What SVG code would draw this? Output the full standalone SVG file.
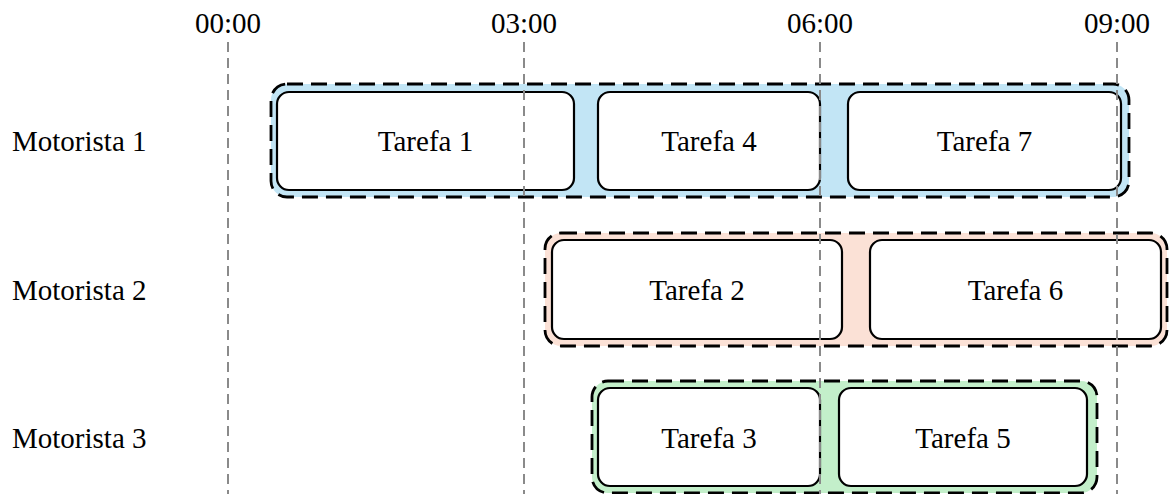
<svg xmlns="http://www.w3.org/2000/svg" width="1170" height="494" viewBox="0 0 1170 494">
  <style>
    text { font-family: "Liberation Serif", "Times New Roman", serif; font-size: 29px; fill: #000; }
    .mid { text-anchor: middle; }
    .lane { stroke: #000; stroke-width: 2.8; stroke-dasharray: 16 8; }
    .blue { fill: #c2e5f5; }
    .peach { fill: #fbe1d6; }
    .green { fill: #c3efca; }
    .task { fill: #fff; stroke: #000; stroke-width: 2.2; }
    .grid { stroke: #8a8a8a; stroke-width: 2; stroke-dasharray: 10 6; fill: none; }
  </style>

  <!-- time axis labels -->
  <g id="axis">
    <text class="mid" x="228" y="33">00:00</text>
    <text class="mid" x="524" y="33">03:00</text>
    <text class="mid" x="820" y="33">06:00</text>
    <text class="mid" x="1117" y="33">09:00</text>
  </g>

  <!-- driver labels -->
  <g id="drivers">
    <text x="12" y="151">Motorista 1</text>
    <text x="12" y="300">Motorista 2</text>
    <text x="12" y="448">Motorista 3</text>
  </g>

  <!-- driver lanes -->
  <g id="lane1">
    <rect class="blue lane" x="271" y="84" width="858" height="113" rx="16"/>
  </g>
  <g id="lane2">
    <rect class="peach lane" x="545" y="233" width="622" height="113" rx="16"/>
  </g>
  <g id="lane3">
    <rect class="green lane" x="592" y="381" width="505" height="112" rx="16"/>
  </g>

  <!-- tasks -->
  <g id="tarefa1">
    <rect class="task" x="277" y="92" width="297" height="98" rx="12"/>
    <text class="mid" x="425.5" y="151">Tarefa 1</text>
  </g>
  <g id="tarefa4">
    <rect class="task" x="598" y="92" width="222" height="98" rx="12"/>
    <text class="mid" x="709" y="151">Tarefa 4</text>
  </g>
  <g id="tarefa7">
    <rect class="task" x="848" y="92" width="273" height="98" rx="12"/>
    <text class="mid" x="984.5" y="151">Tarefa 7</text>
  </g>
  <g id="tarefa2">
    <rect class="task" x="552" y="240" width="290" height="99" rx="12"/>
    <text class="mid" x="697" y="300">Tarefa 2</text>
  </g>
  <g id="tarefa6">
    <rect class="task" x="870" y="240" width="291" height="99" rx="12"/>
    <text class="mid" x="1015.5" y="300">Tarefa 6</text>
  </g>
  <g id="tarefa3">
    <rect class="task" x="598" y="388" width="222" height="98" rx="12"/>
    <text class="mid" x="709" y="448">Tarefa 3</text>
  </g>
  <g id="tarefa5">
    <rect class="task" x="839" y="388" width="248" height="98" rx="12"/>
    <text class="mid" x="963" y="448">Tarefa 5</text>
  </g>

  <!-- hour grid lines -->
  <g id="connectors">
    <line class="grid" x1="228" y1="42" x2="228" y2="494"/>
    <line class="grid" x1="524" y1="42" x2="524" y2="494"/>
    <line class="grid" x1="820" y1="42" x2="820" y2="494"/>
    <line class="grid" x1="1117" y1="42" x2="1117" y2="494"/>
  </g>
</svg>
